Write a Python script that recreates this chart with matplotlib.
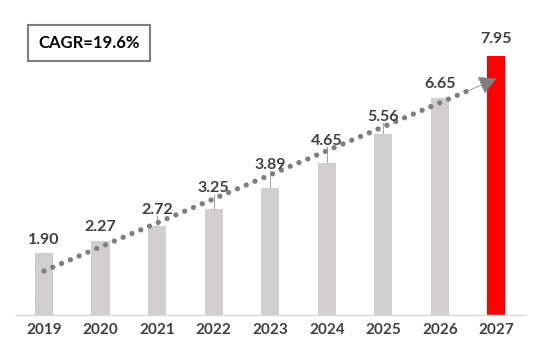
import matplotlib.pyplot as plt
import numpy as np

years = ['2019', '2020', '2021', '2022', '2023', '2024', '2025', '2026', '2027']
values = [1.90, 2.27, 2.72, 3.25, 3.89, 4.65, 5.56, 6.65, 7.95]
cagr_text = 'CAGR=19.6%'

# centro de la etiqueta por encima de la barra (unidades de datos)
label_lift = [0.40, 0.43, 0.50, 0.64, 0.71, 0.69, 0.51, 0.44, 0.52]
leader = [False, False, True, True, True, True, True, False, False]

# flecha de tendencia (x, y en unidades de datos)
trend_start = (0, 1.35)
trend_end = (8, 7.24)

plt.rcParams['font.family'] = ['Lato', 'DejaVu Sans']

fig = plt.figure(figsize=(5.45, 3.45), dpi=100)
ax = fig.add_axes([15.7 / 545, 30 / 345, 509 / 545, 310 / 345])

x = np.arange(len(years))
colores = ['#D0CECE'] * (len(years) - 1) + ['#FF0000']
ax.bar(x, values, width=0.32, color=colores, zorder=2)

for i, v in enumerate(values):
    y_txt = v + label_lift[i]
    ax.text(i, y_txt, f'{v:.2f}', ha='center', va='center', fontsize=11.5,
            fontweight='bold', color='#404040', zorder=5)
    if leader[i]:
        ax.plot([i, i], [v, y_txt - 0.2], color='#A6A6A6', lw=0.8, zorder=1)

# linea de tendencia punteada
x0, y0 = trend_start
x1, y1 = trend_end
frac = 0.95
xm, ym = x0 + (x1 - x0) * frac, y0 + (y1 - y0) * frac
ax.plot([x0, xm], [y0, ym], color='#7F7F7F',
        lw=3.8, linestyle=(0, (0.01, 1.8)), dash_capstyle='round', zorder=4)
ax.annotate('', xy=(x1, y1), xytext=(x0 + (x1 - x0) * 0.93, y0 + (y1 - y0) * 0.93),
            arrowprops=dict(arrowstyle='-|>,head_length=1.1,head_width=0.6',
                            color='#7F7F7F', lw=0.5, shrinkA=0, shrinkB=0), zorder=4)

ax.set_xlim(-0.5, 8.5)
ax.set_ylim(0, 9.5)
ax.set_xticks(x)
ax.set_xticklabels(years, fontsize=11, fontweight='bold', color='#404040')
ax.tick_params(axis='x', length=0, pad=6)
ax.set_yticks([])
for s in ['top', 'right', 'left']:
    ax.spines[s].set_visible(False)
ax.spines['bottom'].set_color('#D9D9D9')
ax.spines['bottom'].set_linewidth(1)

fig.text(89 / 545, 1 - 43 / 345, cagr_text, ha='center', va='center', fontsize=12,
         fontweight='bold', color='black',
         bbox=dict(boxstyle='square,pad=0.6', facecolor='white', edgecolor='#7F7F7F', lw=1.5))

fig.savefig('out.png', dpi=100)
